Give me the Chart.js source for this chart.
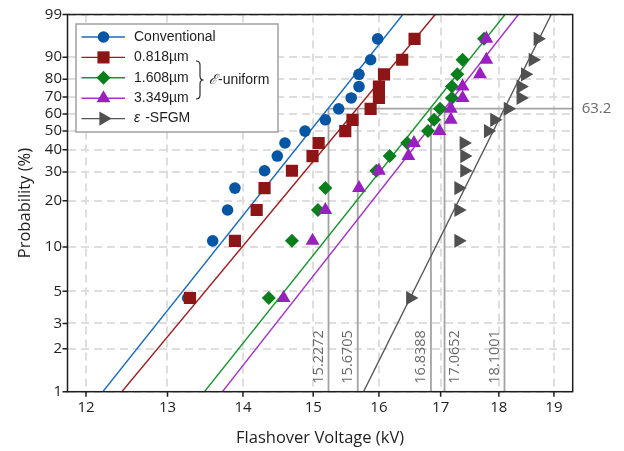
<!DOCTYPE html>
<html>
<head>
<meta charset="utf-8">
<script src="https://cdn.jsdelivr.net/npm/chart.js@4/dist/chart.umd.min.js"></script>
<style>
html, body { margin: 0; padding: 0; background: #fff; }
#wrap { width: 624px; height: 451px; }
</style>
</head>
<body>
<div id="wrap"><canvas id="chart" width="624" height="451"></canvas></div>
<script>
// Weibull probability plot: flashover voltage of conventional / e-uniform / e-SFGM samples

const probLevels = [4.5, 11.0, 17.5, 24.0, 30.5, 37.0, 43.5, 50.0, 56.5, 63.0, 69.5, 76.0, 82.5, 89.0, 95.5];

const conventionalKV = [13.26, 13.59, 13.79, 13.89, 14.30, 14.48, 14.59, 14.88, 15.18, 15.38, 15.57, 15.69, 15.69, 15.87, 15.98];
const uniform0818KV = [13.29, 13.89, 14.19, 14.30, 14.69, 14.99, 15.08, 15.48, 15.59, 15.87, 16.00, 16.00, 16.08, 16.37, 16.57];
const uniform1608KV = [14.36, 14.69, 15.07, 15.18, 15.96, 16.17, 16.45, 16.79, 16.89, 16.99, 17.19, 17.19, 17.28, 17.37, 17.74];
const uniform3349KV = [14.57, 14.99, 15.18, 15.69, 16.00, 16.47, 16.56, 16.98, 17.17, 17.17, 17.37, 17.37, 17.67, 17.78, 17.78];
const sfgmKV = [16.50, 17.30, 17.30, 17.30, 17.40, 17.40, 17.39, 17.81, 17.92, 18.16, 18.39, 18.39, 18.47, 18.61, 18.70];

// fitted Weibull lines: voltage at 1% and at 99%
const fitProbs = [1, 99];
const fitConventional = [12.20, 16.38];
const fitUniform0818 = [12.43, 16.91];
const fitUniform1608 = [13.48, 18.11];
const fitUniform3349 = [13.72, 18.35];
const fitSfgm = [15.76, 18.95];

// characteristic (63.2%) voltages
const markedProb = 63.2;
const markedKV = [15.2272, 15.6705, 16.8388, 17.0652, 18.1001];

const seriesLabels = ['Conventional', '0.818µm', '1.608µm', '3.349µm', 'ε -SFGM'];
const xTicks = [12, 13, 14, 15, 16, 17, 18, 19];
const yTicks = [1, 2, 3, 5, 10, 20, 30, 40, 50, 60, 70, 80, 90, 99];
const xMin = 11.784, xMax = 19.354;

const weib = p => Math.log(-Math.log(1 - p / 100));

const STYLES = [
    { marker: '#0656a6', line: '#1a6bc4', point: 'circle', radius: 5.8, rot: 0 },
    { marker: '#8e1515', line: '#a01c1c', point: 'rect', radius: 8.6, rot: 0 },
    { marker: '#0b7f1c', line: '#17962c', point: 'rectRot', radius: 7, rot: 0 },
    { marker: '#9a1fc0', line: '#a232cf', point: 'triangle', radius: 8, rot: 0 },
    { marker: '#505050', line: '#555555', point: 'triangle', radius: 8.2, rot: 90 },
];

const pointsKV = [conventionalKV, uniform0818KV, uniform1608KV, uniform3349KV, sfgmKV];
const fits = [fitConventional, fitUniform0818, fitUniform1608, fitUniform3349, fitSfgm];

const datasets = [];

pointsKV.forEach((kv, i) => {
    const s = STYLES[i];
    datasets.push({
        label: seriesLabels[i],
        data: kv.map((v, j) => ({ x: v, y: weib(probLevels[j]) })),
        pointStyle: s.point,
        pointRadius: s.radius,
        pointRotation: s.rot,
        pointBackgroundColor: s.marker,
        pointBorderWidth: 0,
        showLine: false,
        order: 5 - i,
    });
});

fits.forEach((f, i) => {
    datasets.push({
        label: seriesLabels[i] + ' fit',
        data: f.map((v, j) => ({ x: v, y: weib(fitProbs[j]) })),
        showLine: true,
        borderColor: STYLES[i].line,
        borderWidth: 1.4,
        pointRadius: 0,
        order: 10,
    });
});

markedKV.forEach(v => {
    datasets.push({
        label: 'mark',
        data: [{ x: v, y: weib(1) }, { x: v, y: weib(markedProb) }],
        showLine: true,
        borderColor: '#a3a3a3',
        borderWidth: 1.8,
        pointRadius: 0,
        order: 20,
    });
});
datasets.push({
    label: 'mark',
    data: [{ x: markedKV[0], y: weib(markedProb) }, { x: xMax, y: weib(markedProb) }],
    showLine: true,
    borderColor: '#a3a3a3',
    borderWidth: 1.8,
    pointRadius: 0,
    order: 20,
});

// which side of its line each rotated label sits on (-1 left, +1 right)
const labelSide = [-1, -1, -1, 1, -1];

const overlay = {
    id: 'overlay',
    afterDatasetsDraw(chart) {
        const { ctx, chartArea: a, scales: { x, y } } = chart;
        ctx.save();

        // frame + outward tick marks
        ctx.strokeStyle = '#1e1e1e';
        ctx.lineWidth = 1.5;
        ctx.strokeRect(a.left, a.top, a.right - a.left, a.bottom - a.top);
        ctx.beginPath();
        xTicks.forEach(v => {
            const px = x.getPixelForValue(v);
            ctx.moveTo(px, a.bottom);
            ctx.lineTo(px, a.bottom + 5);
        });
        yTicks.forEach(p => {
            const py = y.getPixelForValue(weib(p));
            ctx.moveTo(a.left - 5, py);
            ctx.lineTo(a.left, py);
        });
        ctx.stroke();

        // 63.2 label and rotated voltage labels
        ctx.fillStyle = '#6a6a6a';
        ctx.font = '15px "Open Sans"';
        ctx.textAlign = 'left';
        ctx.textBaseline = 'middle';
        ctx.fillText(String(markedProb), a.right + 9, y.getPixelForValue(weib(markedProb)));
        ctx.font = '14.5px "Open Sans"';
        markedKV.forEach((v, i) => {
            const px = x.getPixelForValue(v);
            ctx.save();
            ctx.translate(px + labelSide[i] * 10, a.bottom - 8);
            ctx.rotate(-Math.PI / 2);
            ctx.fillText(v.toFixed(4), 0, 0);
            ctx.restore();
        });

        // legend
        const bx = 76, by = 24, bw = 202, bh = 108;
        ctx.fillStyle = '#fff';
        ctx.fillRect(bx, by, bw, bh);
        ctx.strokeStyle = '#a0a0a0';
        ctx.lineWidth = 1.5;
        ctx.strokeRect(bx, by, bw, bh);
        ctx.font = '14px "Liberation Sans", Arial, sans-serif';
        seriesLabels.forEach((lab, i) => {
            const s = STYLES[i];
            const ry = 37 + i * 20.4;
            ctx.strokeStyle = s.line;
            ctx.lineWidth = 1.4;
            ctx.beginPath();
            ctx.moveTo(81.5, ry);
            ctx.lineTo(125, ry);
            ctx.stroke();
            ctx.fillStyle = s.marker;
            Chart.helpers.drawPoint(ctx, { pointStyle: s.point, radius: s.radius, rotation: s.rot, borderWidth: 0 }, 103.5, ry);
            ctx.fillStyle = '#1e1e1e';
            if (i === 4) {
                ctx.font = 'italic 14px "Liberation Sans", Arial, sans-serif';
                ctx.fillText('ε', 134, ry);
                ctx.font = '14px "Liberation Sans", Arial, sans-serif';
                ctx.fillText(' -SFGM', 134 + ctx.measureText('ε').width + 1, ry);
            } else {
                ctx.fillText(lab, 134, ry);
            }
        });
        // brace grouping the three e-uniform entries
        ctx.strokeStyle = '#1e1e1e';
        ctx.lineWidth = 1.1;
        ctx.beginPath();
        ctx.moveTo(196, 61);
        ctx.quadraticCurveTo(200, 61, 200, 65);
        ctx.lineTo(200, 76);
        ctx.quadraticCurveTo(200, 80, 203.5, 80);
        ctx.quadraticCurveTo(200, 80, 200, 84);
        ctx.lineTo(200, 95);
        ctx.quadraticCurveTo(200, 99, 196, 99);
        ctx.stroke();
        ctx.fillStyle = '#1e1e1e';
        ctx.font = 'italic 14px "DejaVu Serif", serif';
        ctx.fillText('ℰ', 209, 80);
        const ew = ctx.measureText('ℰ').width;
        ctx.font = '14px "Liberation Sans", Arial, sans-serif';
        ctx.fillText('-uniform', 209 + ew + 1, 80);

        ctx.restore();
    },
};

new Chart(document.getElementById('chart'), {
    type: 'scatter',
    data: { datasets },
    plugins: [overlay],
    options: {
        responsive: false,
        animation: false,
        devicePixelRatio: 1,
        layout: { padding: { top: 14.3, right: 51.3, left: 0, bottom: 0 } },
        plugins: { legend: { display: false }, tooltip: { enabled: false } },
        scales: {
            x: {
                type: 'logarithmic',
                min: xMin,
                max: xMax,
                afterBuildTicks: scale => { scale.ticks = xTicks.map(v => ({ value: v })); },
                afterFit: scale => { scale.height = 59.3; },
                ticks: {
                    color: '#1e1e1e',
                    font: { family: 'Open Sans', size: 15 },
                    padding: 7,
                    maxRotation: 0,
                    autoSkip: false,
                    callback: v => String(v),
                },
                grid: { color: '#dedede', lineWidth: 2, drawTicks: false },
                border: { display: false, dash: [8, 5] },
                title: {
                    display: true,
                    text: 'Flashover Voltage (kV)',
                    color: '#1e1e1e',
                    font: { family: 'Open Sans', size: 16.5 },
                    padding: { top: 4, bottom: 3 },
                },
            },
            y: {
                type: 'linear',
                min: weib(1),
                max: weib(99),
                afterBuildTicks: scale => { scale.ticks = yTicks.map(p => ({ value: weib(p) })); },
                afterFit: scale => { scale.width = 67.5; },
                ticks: {
                    color: '#1e1e1e',
                    font: { family: 'Open Sans', size: 15 },
                    padding: 5.5,
                    autoSkip: false,
                    callback: (v, i) => String(yTicks[i]),
                },
                grid: { color: '#dedede', lineWidth: 2, drawTicks: false },
                border: { display: false, dash: [8, 5] },
                title: {
                    display: true,
                    text: 'Probability (%)',
                    color: '#1e1e1e',
                    font: { family: 'Open Sans', size: 16.5 },
                    padding: { top: 15, bottom: 0 },
                },
            },
        },
    },
});
</script>
</body>
</html>
